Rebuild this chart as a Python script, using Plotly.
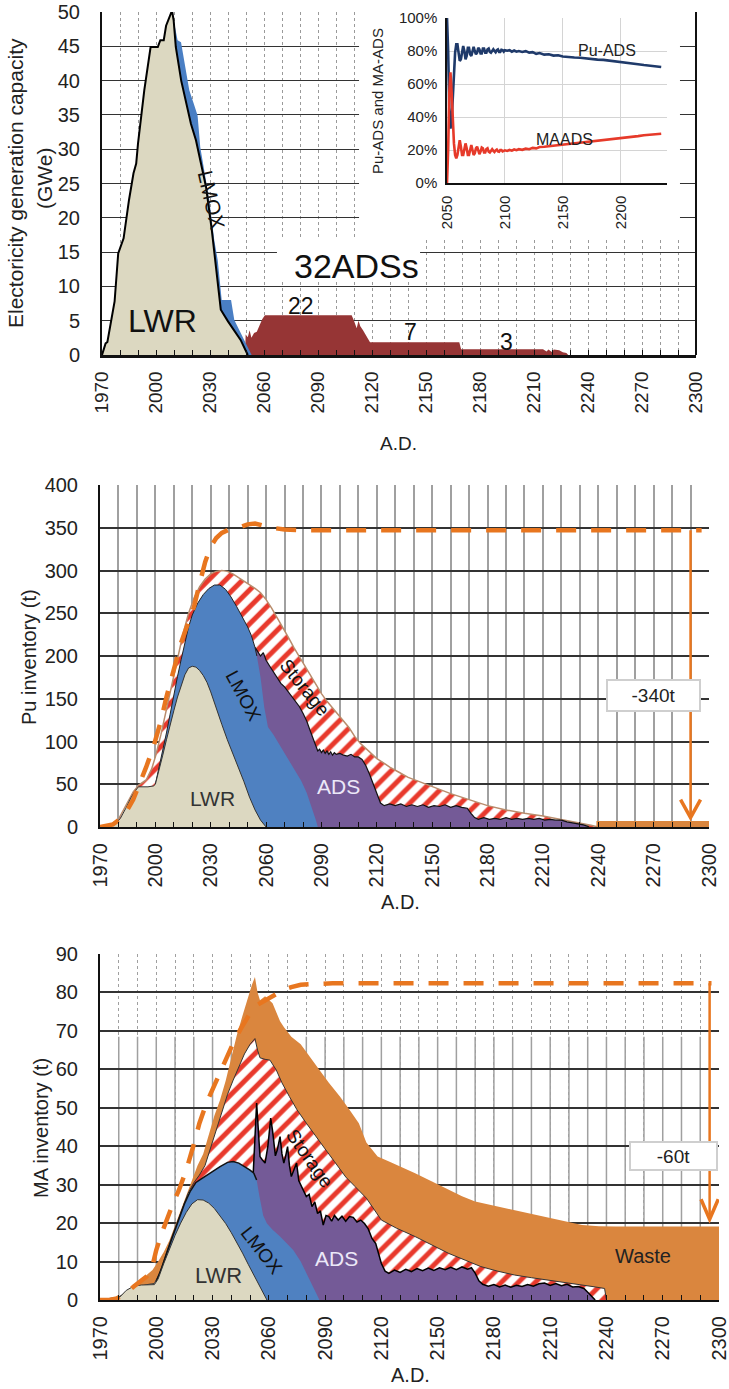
import plotly.graph_objects as go

W, H = 729, 1389
FONT = "Liberation Sans, Arial, Helvetica, sans-serif"

# ---------------- shared tick labels ----------------
year_tick_start, year_tick_step = 1970, 30
inset_year_ticks = [2050, 2100, 2150, 2200]
inset_pct_ticks = [0, 20, 40, 60, 80, 100]
inset_pct_labels = ["0%", "20%", "40%", "60%", "80%", "100%"]

# ---------------- Panel 1: electricity generation capacity (GWe) ----------------
cap_lwr_years = [1970, 1972, 1973, 1975, 1977, 1979, 1982, 1985, 1987.5, 1989, 1990, 1993.5, 1997, 2001,
                 2002.4, 2004.3, 2005.6, 2008.3, 2008.9, 2009.8, 2011, 2014, 2016.7, 2019.4, 2022.2, 2025,
                 2027.8, 2031, 2034, 2036, 2040, 2043.5, 2047, 2051]
cap_lwr = [0, 1.7, 1.9, 5.1, 7.8, 14.8, 17, 22.6, 26.5, 27.9, 30.8, 38.6, 44.9, 44.9,
           45.9, 45.9, 48, 49.8, 50.2, 48.8, 44.9, 40, 36.7, 33.7, 31.3, 27.9,
           24.5, 18.2, 11.4, 6.6, 4.9, 3.6, 2.2, 0]

cap_lmox_years = [2009.8, 2012, 2013.9, 2015.4, 2016.9, 2018.5, 2020.9, 2023.1, 2024.6, 2026.9, 2029.6,
                  2032.4, 2034.3, 2036.5, 2041.7, 2043.5, 2046.3, 2050, 2053.1]
cap_lmox_top = [48.8, 45.9, 45.6, 43.4, 41.3, 38.6, 36.7, 34.9, 30.3, 26.9, 22.6,
                16.7, 13.8, 8, 8, 5.1, 3.6, 1.7, 0]

cap_ads_years = [2049.5, 2049.8, 2051, 2052, 2053, 2054.5, 2056, 2057.5, 2059, 2060.5, 2108.7, 2110,
                 2111.5, 2112.5, 2113.5, 2115, 2117, 2118.9, 2168.5, 2169.5, 2215, 2217, 2218, 2220,
                 2221, 2224, 2226, 2228, 2229]
cap_ads = [0, 3, 2.6, 3.6, 2.5, 3.2, 3.4, 4.3, 5.2, 5.8, 5.8, 5.0,
           3.9, 5.0, 4.2, 3.6, 2.6, 1.85, 1.85, 0.85, 0.85, 0.5, 0.8, 0.45,
           0.8, 0.7, 0.4, 0.3, 0]

# ---------------- Inset: share of Pu / MA in ADS (%) ----------------
inset_years = list(range(2050, 2101)) + [2102, 2104, 2106, 2108, 2110, 2112, 2115, 2118, 2121, 2124, 2127,
                                         2130, 2134, 2138, 2142, 2146, 2150, 2155, 2160, 2165, 2170, 2175,
                                         2180, 2185, 2190, 2195, 2200, 2205, 2210, 2215, 2220, 2225, 2230, 2235]
inset_pu_ads = [100, 80, 45, 33, 38, 52, 68, 79, 84, 84,
                79, 74, 75, 80, 83, 80, 75, 77, 82, 82,
                78, 77, 80, 82.5, 80, 78, 79, 82, 81, 78.5,
                78.5, 81.5, 81.5, 79, 79, 81, 81.5, 79.5, 79, 80.5,
                81, 80, 79.2, 80.5, 81, 79.5, 79.5, 80.8, 80.6, 79.6,
                80.5,
                80.2, 80.5, 79.6, 80.3, 79.6, 80, 79.4, 79.9, 79, 79.3, 78.3,
                78.8, 77.8, 78, 77.2, 77.4, 76.7, 76.6, 76.1, 75.9, 75.4, 75.2,
                74.8, 74.6, 74.2, 74, 73.6, 73.1, 72.6, 72, 71.5, 71, 70.6, 70.3]
inset_ma_ads = [0, 20, 55, 67, 55, 38, 24, 17, 15, 17,
                23, 26, 22, 17, 17, 21, 24, 21, 17, 17,
                21, 23, 20, 17, 18, 21, 22, 19, 17.5, 19,
                21.5, 21, 18.5, 18.5, 20.5, 21, 19, 18.5, 20, 20.5,
                19.5, 18.8, 19.8, 20.3, 19.2, 19, 20, 20, 19.2, 19.5,
                19.8,
                19.4, 20, 19.6, 20.3, 19.9, 20.5, 20.1, 20.8, 20.5, 21.3, 21,
                21.8, 22, 22.3, 22.7, 22.9, 23.3, 23.6, 24, 24.4, 24.8, 25.1,
                25.5, 25.8, 26.2, 26.5, 27, 27.4, 27.9, 28.4, 28.9, 29.3, 29.6, 29.9]

# ---------------- Panel 2: Pu inventory (t), cumulative boundaries ----------------
pu_lwr_years = [1970, 1975, 1978, 1981, 1984, 1987, 1990, 1991, 1996, 1999, 2000, 2002, 2004, 2006, 2008,
                2010, 2012, 2014, 2016, 2018, 2020, 2022, 2024, 2026, 2028, 2030, 2033, 2036, 2039, 2042,
                2045, 2048, 2051, 2054, 2057, 2060]
pu_lwr = [0, 0, 3, 10, 22, 35, 45, 47, 47, 48, 50, 66, 84, 102, 120,
          136, 152, 166, 178, 186, 188, 187, 183, 177, 169, 158, 138, 120, 102, 86,
          70, 53, 35, 20, 8, 0]

pu_lmox_years = [2000, 2002, 2004, 2006, 2008, 2010, 2012, 2014, 2016, 2018, 2020, 2023, 2026, 2029, 2032,
                 2035, 2038, 2041, 2044, 2047, 2050, 2052, 2054, 2055, 2057, 2059, 2061, 2064, 2067, 2070,
                 2073, 2076, 2079, 2082, 2085, 2087, 2088]
pu_lmox_top = [50, 69, 88, 110, 132, 155, 176, 196, 216, 234, 248, 262, 272, 279, 283,
               283, 278, 269, 258, 246, 234, 224, 210, 200, 175, 140, 117, 108, 97, 86,
               75, 64, 54, 40, 22, 8, 0]

pu_ads_years = [2054, 2055.5, 2057, 2058.5, 2060, 2062, 2064, 2066, 2068, 2070, 2072, 2074, 2076, 2078, 2080,
                2082, 2084, 2086, 2087, 2088, 2089, 2090, 2091, 2092, 2093, 2094, 2095, 2096, 2097, 2098,
                2100, 2102, 2104, 2106, 2108, 2110, 2112, 2114, 2116, 2118, 2120, 2122, 2124, 2127, 2130,
                2133, 2136, 2139, 2142, 2145, 2148, 2151, 2154, 2157, 2160, 2163, 2166, 2169, 2171, 2173,
                2175, 2178, 2181, 2184, 2187, 2190, 2193, 2196, 2199, 2202, 2205, 2208, 2211, 2214, 2217,
                2220, 2223, 2226, 2229, 2232, 2234, 2235]
pu_ads_top = [210, 205, 200, 204, 195, 188, 181, 175, 168, 164, 158, 152, 147, 141, 133,
              124, 112, 100, 93, 89, 91, 87, 90, 86, 89, 85, 88, 84, 87, 85,
              86, 84, 83, 85, 82, 82, 79, 72, 62, 50, 38, 28, 25, 27, 25,
              27, 24, 26, 24, 26, 23, 25, 24, 26, 23, 25, 23, 22, 16, 11,
              9, 11, 9, 10, 9, 11, 9, 10, 9, 10, 9, 10, 8, 9, 8,
              8, 6, 5, 4, 2.5, 1, 0]

pu_storage_years = [1970, 1975, 1980, 1985, 1988, 1991, 1995, 1998, 2000, 2003, 2006, 2009, 2012, 2015, 2018,
                    2021, 2024, 2027, 2030, 2033, 2036, 2039, 2042, 2045, 2048, 2051, 2054, 2057, 2060, 2063,
                    2066, 2069, 2072, 2075, 2078, 2081, 2084, 2087, 2090, 2093, 2096, 2099, 2102, 2105, 2108,
                    2111, 2114, 2117, 2120, 2123, 2127, 2132, 2137, 2142, 2150, 2160, 2170, 2180, 2190, 2200,
                    2210, 2220, 2230, 2236, 2240]
pu_storage_top = [0, 2, 9, 28, 41, 49, 55, 68, 82, 108, 138, 168, 198, 226, 250,
                  268, 281, 290, 296, 299, 300, 299, 296, 292, 288, 284, 279, 274, 266, 256,
                  245, 234, 222, 210, 199, 188, 177, 166, 156, 147, 139, 131, 124, 116, 106,
                  98, 92, 86, 80, 76, 70, 64, 58, 54, 47, 39, 32, 25, 20, 16,
                  13, 9, 5, 2, 0]

pu_waste_years = [2239, 2300]
pu_waste = [7, 7]

pu_total_years = [1970, 1974, 1977, 1980, 1984, 1988, 1991, 1995, 1999, 2003, 2006, 2010, 2014, 2018, 2021,
                  2024, 2027, 2030, 2033, 2036, 2040, 2045, 2050, 2054, 2058, 2063, 2070, 2080, 2296]
pu_total = [0, 1, 3, 8, 17, 32, 47, 70, 94, 124, 152, 185, 216, 240, 258,
            285, 310, 328, 338, 344, 348, 350, 354, 355, 353, 350, 348, 347, 347]
pu_reduction_label = "-340t"
pu_arrow_year, pu_arrow_from, pu_arrow_to = 2290, 347, 11

# ---------------- Panel 3: MA inventory (t), cumulative boundaries ----------------
ma_lwr_years = [1970, 1977, 1980, 1984, 1988, 1992, 1999, 2001, 2004, 2007, 2010, 2013, 2016, 2019, 2022,
                2025, 2028, 2031, 2034, 2037, 2040, 2043, 2046, 2049, 2052, 2055, 2058, 2059]
ma_lwr = [0, 0, 0.5, 2.5, 3.6, 3.9, 4, 5.5, 9.5, 13.2, 16.8, 20, 22.8, 25, 26.1,
          26, 25.2, 23.8, 22, 19.9, 17.5, 15, 12.2, 9.3, 6.5, 3.6, 0.8, 0]

ma_lmox_years = [2000, 2003, 2006, 2009, 2012, 2015, 2018, 2021, 2024, 2027, 2030, 2034, 2038, 2041, 2044,
                 2047, 2050, 2052, 2053.5, 2055, 2057, 2059, 2062, 2066, 2070, 2073, 2077, 2080, 2084, 2087]
ma_lmox_top = [4.8, 8.5, 12.8, 17, 21, 25, 28.2, 30.5, 31.5, 32.5, 33.5, 34.7, 35.8, 36, 35.6,
               34.8, 33.8, 33, 31.2, 27, 22, 19.9, 18.3, 16.5, 14.5, 13, 10, 6.9, 3, 0]

ma_ads_years = [2051.7, 2052.5, 2053.5, 2054.3, 2055.3, 2056.5, 2058, 2059.5, 2061, 2062, 2063.5, 2064.5,
                2066, 2067, 2068, 2069, 2070, 2071, 2072, 2073.5, 2074.8, 2076, 2077.5, 2079, 2080, 2081.5,
                2083, 2084.5, 2086, 2087.5, 2089, 2090.5, 2092, 2093.5, 2095, 2097, 2099, 2101, 2103, 2105,
                2107, 2109, 2111, 2113, 2115, 2117, 2119, 2120, 2122, 2124, 2127, 2130, 2133, 2136, 2139,
                2142, 2145, 2148, 2151, 2154, 2157, 2160, 2163, 2166, 2168, 2170, 2172, 2174, 2177, 2180,
                2183, 2186, 2189, 2192, 2195, 2198, 2201, 2204, 2207, 2210, 2213, 2216, 2219, 2222, 2225,
                2228, 2230, 2232, 2234]
ma_ads_top = [33, 40, 51.2, 45, 37.3, 36.5, 35.6, 40, 47.3, 44, 37.5, 39,
              42.5, 38, 35.6, 37.5, 39.9, 35, 32.1, 34, 35.6, 31, 29.5, 28, 26.9, 27.5,
              24.3, 25.5, 22.5, 23.2, 19.5, 22, 21.7, 20.5, 22, 20.8, 21.8, 20.5, 21.7, 21.5,
              20.3, 20.8, 19.9, 18.5, 16, 14.7, 11.5, 9.5, 7.5, 6.9, 7.8, 7.2, 8, 7.4, 8.2,
              7.6, 8.3, 7.7, 8.4, 7.9, 8.5, 7.9, 8.6, 8, 8.4, 7, 5, 4.1, 3.6, 4.0,
              3.4, 3.9, 3.3, 3.8, 3.5, 4, 3.6, 4.2, 4.4, 3.8, 4.3, 3.7, 4.1, 3.4, 3.5,
              3.0, 2, 1, 0]

ma_storage_years = [1970, 1980, 1985, 1990, 1995, 1999, 2002, 2005, 2008, 2011, 2014, 2017, 2020, 2023, 2026,
                    2029, 2032, 2035, 2038, 2041, 2044, 2047, 2050, 2052.6, 2054, 2055.3, 2058, 2060.6, 2064,
                    2067, 2071, 2075, 2080, 2085, 2090, 2095, 2101, 2106, 2112, 2120, 2128, 2138, 2146, 2156,
                    2165, 2173, 2182, 2191, 2200, 2209, 2218, 2227, 2234, 2239, 2240]
ma_storage_top = [0, 0.8, 2.2, 3.3, 4, 4.3, 7.2, 11.7, 16, 20, 24, 27.8, 30.5, 32.5, 35,
                  39.5, 44.2, 49, 53.5, 57.2, 60.8, 64, 66.5, 68, 65, 63, 62.6, 62.4, 59.8,
                  56.5, 52.9, 49.5, 46, 42.5, 39.3, 36, 32, 29.5, 26.5, 20.8, 18.7, 16.5, 14.5, 12.1,
                  10.3, 8.7, 7.5, 6.5, 5.8, 5.2, 4.6, 3.9, 3.4, 3, 0]

ma_waste_years = [1970, 1975, 1980, 1985, 1990, 1995, 1998, 2001, 2004, 2007, 2010, 2013, 2016, 2019, 2022,
                  2025, 2028, 2031, 2034, 2037, 2040, 2043, 2046, 2049, 2051, 2052.6, 2054, 2055.3, 2058,
                  2062, 2066, 2068, 2072, 2077, 2082, 2087, 2092, 2098, 2103, 2108, 2112, 2118, 2125, 2130,
                  2138, 2147, 2156, 2163, 2170, 2180, 2191, 2200, 2209, 2218, 2227, 2236, 2245, 2300]
ma_waste_top = [0, 0.3, 0.8, 2.5, 4.5, 6.5, 7.8, 10, 12.5, 15.5, 19.5, 23.5, 27.5, 31, 35,
                38, 43, 48, 52, 57, 63, 69, 74, 79, 82, 84, 80, 78, 79,
                77.2, 72.5, 71, 68.5, 66.5, 63, 59.8, 56.5, 52.9, 49.5, 46, 41, 37.3, 35.8, 34.8,
                33, 30.8, 28.6, 27, 25.6, 24.5, 23.4, 22.3, 21.3, 20.3, 19.5, 19.2, 19.1, 19.1]

ma_total_years = [1970, 1975, 1979, 1984, 1988, 1992, 1995, 1998, 2000, 2003, 2006, 2009, 2012, 2016, 2020,
                  2023, 2027, 2032, 2036, 2041, 2045, 2050, 2054, 2059, 2063, 2068, 2072, 2077, 2085, 2094,
                  2296]
ma_total = [0, 0, 0.4, 1.8, 3.5, 5, 6.2, 9, 13, 17.5, 21.5, 25.2, 28.5, 33.8, 40.5,
            46, 51.5, 57.2, 61.5, 66.8, 70.5, 74.6, 76.8, 78.2, 79.5, 80.7, 81.4, 82, 82.2, 82.4,
            82.4]
ma_reduction_label = "-60t"
ma_arrow_year, ma_arrow_from, ma_arrow_to = 2295, 82.4, 21

# ---------------- colours ----------------
C_LWR = "#dcd8c1"
C_LMOX = "#4f81c1"
C_LMOX1 = "#4a7fc4"
C_ADS = "#745a97"
C_ADS_RED = "#963535"
C_WASTE = "#da863e"
C_DASH = "#e8761f"
C_HATCH = "#e8392c"
C_PU = "#1f3a6a"
C_MA = "#e63a2a"


def fx(px):
    return px / W


def fy(py):
    return 1 - py / H


fig = go.Figure()


def area(x, y, xa, ya, fillcolor, line_color=None, line_width=0, pattern=None):
    kw = dict(x=x, y=y, mode="lines", xaxis=xa, yaxis=ya, fill="tozeroy", hoverinfo="skip",
              showlegend=False,
              line=dict(color=line_color or fillcolor, width=line_width, shape="linear"))
    if pattern:
        kw["fillpattern"] = pattern
        kw["fillcolor"] = "white"
    else:
        kw["fillcolor"] = fillcolor
    fig.add_trace(go.Scatter(**kw))


def line(x, y, xa, ya, color, width, dash=None):
    fig.add_trace(go.Scatter(x=x, y=y, mode="lines", xaxis=xa, yaxis=ya, hoverinfo="skip", showlegend=False,
                             line=dict(color=color, width=width, dash=dash)))


hatch = dict(shape="/", fgcolor=C_HATCH, bgcolor="white", size=12, solidity=0.42, fillmode="replace")

# Panel 1
area(cap_ads_years, cap_ads, "x", "y", C_ADS_RED)
area(cap_lmox_years, cap_lmox_top, "x", "y", C_LMOX1)
area(cap_lwr_years, cap_lwr, "x", "y", C_LWR, "black", 2)

# Inset
line(inset_years, inset_pu_ads, "x4", "y4", C_PU, 2.6)
line(inset_years, inset_ma_ads, "x4", "y4", C_MA, 2.6)

# Panel 2
area(pu_storage_years, pu_storage_top, "x2", "y2", "white", "#b98c6c", 1.5, pattern=hatch)
area(pu_ads_years, pu_ads_top, "x2", "y2", C_ADS, "#111", 1.2)
area(pu_lmox_years, pu_lmox_top, "x2", "y2", C_LMOX)
pu_lmox_vis = [(x, y) for x, y in zip(pu_lmox_years, pu_lmox_top) if x <= 2055]
line([p[0] for p in pu_lmox_vis], [p[1] for p in pu_lmox_vis], "x2", "y2", "#222", 1)
area(pu_lwr_years, pu_lwr, "x2", "y2", C_LWR, "#333", 1)
area(pu_waste_years, pu_waste, "x2", "y2", C_WASTE)
line(pu_total_years, pu_total, "x2", "y2", C_DASH, 4.5, dash="20px,15px")

# Panel 3
area(ma_waste_years, ma_waste_top, "x3", "y3", C_WASTE)
area(ma_storage_years, ma_storage_top, "x3", "y3", "white", "#333", 1, pattern=hatch)
area(ma_ads_years, ma_ads_top, "x3", "y3", C_ADS, "#000", 1.5)
area(ma_lmox_years, ma_lmox_top, "x3", "y3", C_LMOX)
ma_lmox_vis = [(x, y) for x, y in zip(ma_lmox_years, ma_lmox_top) if x <= 2053.5]
line([p[0] for p in ma_lmox_vis], [p[1] for p in ma_lmox_vis], "x3", "y3", "#111", 1.5)
area(ma_lwr_years, ma_lwr, "x3", "y3", C_LWR, "#333", 1)
line(ma_total_years, ma_total, "x3", "y3", C_DASH, 4.5, dash="20px,15px")


def xaxis_cfg(dom, anchor, gridcolor, griddash, gridwidth, linewidth, fontsize):
    return dict(domain=dom, anchor=anchor, range=[1970, 2300], tickmode="linear", tick0=year_tick_start,
                dtick=year_tick_step, tickangle=-90, ticks="inside", ticklen=5, tickwidth=1.3,
                tickcolor="#111", showline=True, linecolor="#111", linewidth=linewidth, zeroline=False,
                showgrid=True, gridcolor=gridcolor, griddash=griddash, gridwidth=gridwidth,
                tickfont=dict(family=FONT, size=fontsize, color="#222"), ticklabelstandoff=6,
                automargin=False, ticklabeloverflow="allow",
                minor=dict(tickmode="linear", tick0=1970, dtick=10, ticks="inside", ticklen=5,
                           tickwidth=1.3, tickcolor="#111", showgrid=True, gridcolor=gridcolor,
                           griddash=griddash, gridwidth=gridwidth))


def yaxis_cfg(dom, anchor, rng, dtick, gridwidth, fontsize):
    return dict(domain=dom, anchor=anchor, range=rng, tickmode="linear", tick0=0, dtick=dtick, ticks="",
                showline=True, linecolor="#111", linewidth=2, zeroline=False, showgrid=True,
                gridcolor="#333", gridwidth=gridwidth, tickfont=dict(family=FONT, size=fontsize, color="#222"),
                ticklabelstandoff=16, automargin=False, ticklabeloverflow="allow")


layout = dict(
    width=W, height=H, autosize=False, margin=dict(l=0, r=0, t=0, b=0, pad=0, autoexpand=False),
    paper_bgcolor="white", plot_bgcolor="white", showlegend=False,
    font=dict(family=FONT, color="#222"),
    xaxis=xaxis_cfg([fx(102), fx(696)], "y", "#9a9a9a", "dot", 1, 2.5, 19),
    yaxis=yaxis_cfg([fy(355), fy(12)], "x", [0, 50], 5, 1.3, 20),
    xaxis2=xaxis_cfg([fx(100), fx(709)], "y2", "#a0a0a0", "solid", 1.6, 2, 20),
    yaxis2=yaxis_cfg([fy(827), fy(485)], "x2", [0, 400], 50, 1.6, 20),
    xaxis3=xaxis_cfg([fx(100), fx(719)], "y3", "#a0a0a0", "dot", 1, 2, 20),
    yaxis3=yaxis_cfg([fy(1300), fy(954)], "x3", [0, 90], 10, 1.5, 20),
    xaxis4=dict(domain=[fx(447), fx(667)], anchor="y4", range=[2050, 2240], tickvals=inset_year_ticks,
                tickangle=-90, ticks="", showline=True, linecolor="#111", linewidth=1.5, zeroline=False,
                showgrid=True, gridcolor="#d4d4d4", gridwidth=1, automargin=False,
                tickfont=dict(family=FONT, size=15, color="#222"), ticklabelstandoff=5),
    yaxis4=dict(domain=[fy(183), fy(18)], anchor="x4", range=[0, 100], tickvals=inset_pct_ticks,
                ticktext=inset_pct_labels, ticks="", showline=True, linecolor="#111", linewidth=1.5,
                zeroline=False, showgrid=True, gridcolor="#d4d4d4", gridwidth=1, automargin=False,
                tickfont=dict(family=FONT, size=15, color="#222"), ticklabelstandoff=5),
)

shapes = []
# white areas covering the grid of panel 1 (behind the inset and the "32ADSs" caption)
shapes.append(dict(type="rect", xref="x", yref="y", x0=2112.8, x1=2291.1, y0=17.2, y1=51,
                   fillcolor="white", line=dict(width=0), layer="between"))
shapes.append(dict(type="rect", xref="x", yref="y", x0=2067.2, x1=2146.7, y0=10.93, y1=17.2,
                   fillcolor="white", line=dict(width=0), layer="between"))
# right frame of panel 1
shapes.append(dict(type="line", xref="paper", yref="paper", x0=fx(696), x1=fx(696), y0=fy(355), y1=fy(12),
                   line=dict(color="#111", width=2), layer="above"))
# solid lower part of the vertical grid in panel 3
for yr in range(1980, 2300, 10):
    shapes.append(dict(type="line", xref="x3", yref="y3", x0=yr, x1=yr, y0=0, y1=68.5,
                       line=dict(color="#a0a0a0", width=1.5), layer="below"))
# reduction arrows
shapes.append(dict(type="line", xref="x2", yref="y2", x0=pu_arrow_year, x1=pu_arrow_year,
                   y0=pu_arrow_from, y1=pu_arrow_to, line=dict(color=C_DASH, width=2.5), layer="above"))
shapes.append(dict(type="path", xref="x2", yref="y2",
                   path=f"M {pu_arrow_year - 5.4},{pu_arrow_to + 21} L {pu_arrow_year},{pu_arrow_to} "
                        f"L {pu_arrow_year + 5.4},{pu_arrow_to + 21}",
                   line=dict(color=C_DASH, width=3.5), layer="above"))
shapes.append(dict(type="line", xref="x3", yref="y3", x0=ma_arrow_year, x1=ma_arrow_year,
                   y0=ma_arrow_from, y1=ma_arrow_to, line=dict(color=C_DASH, width=2.5), layer="above"))
shapes.append(dict(type="path", xref="x3", yref="y3",
                   path=f"M {ma_arrow_year - 4.6},{ma_arrow_to + 5.2} L {ma_arrow_year},{ma_arrow_to} "
                        f"L {ma_arrow_year + 4.6},{ma_arrow_to + 5.2}",
                   line=dict(color=C_DASH, width=3.5), layer="above"))
layout["shapes"] = shapes


def ann(text, px, py, size, color="#111", angle=0, **kw):
    d = dict(text=text, x=fx(px), y=fy(py), xref="paper", yref="paper", showarrow=False,
             xanchor="center", yanchor="middle", textangle=angle,
             font=dict(family=FONT, size=size, color=color))
    d.update(kw)
    return d


annotations = [
    # panel 1
    ann("Electoricity generation capacity", 15, 183, 21, "#222", -90),
    ann("(GWe)", 44, 179, 21, "#222", -90),
    ann("A.D.", 398, 443, 19, "#222"),
    ann("LWR", 162, 321, 32, "#111"),
    ann("LMOX", 212, 200, 21, "#111", 77),
    ann("32ADSs", 356, 266, 34, "#111"),
    ann("22", 301, 306, 23, "#111"),
    ann("7", 410, 332, 23, "#111"),
    ann("3", 506, 342, 23, "#111"),
    # inset
    ann("Pu-ADS and MA-ADS", 377, 101, 15, "#222", -90),
    ann("Pu-ADS", 607, 51, 16, "#222"),
    ann("MAADS", 564, 139, 16, "#222"),
    # panel 2
    ann("Pu inventory (t)", 29, 657, 20, "#222", -90),
    ann("A.D.", 400, 902, 20, "#222"),
    ann("LWR", 212, 798, 21, "#333"),
    ann("LMOX", 243, 696, 19, "#111", 62),
    ann("Storage", 305, 687, 19, "#111", 51),
    ann("ADS", 338, 786, 21, "#ece8f8"),
    ann(pu_reduction_label, 653, 695, 19, "#222", bgcolor="white", bordercolor="#cfcfcf",
        borderwidth=2, borderpad=1, width=89, height=27),
    # panel 3
    ann("MA inventory (t)", 41, 1128, 20, "#222", -90),
    ann("A.D.", 410, 1375, 20, "#222"),
    ann("LWR", 218, 1275, 22, "#333"),
    ann("LMOX", 262, 1250, 19, "#111", 52),
    ann("Storage", 310, 1158, 19, "#111", 55),
    ann("ADS", 336, 1258, 21, "#ece8f8"),
    ann("Waste", 643, 1256, 20, "#222"),
    ann(ma_reduction_label, 673, 1156, 19, "#222", bgcolor="white", bordercolor="#cfcfcf",
        borderwidth=2, borderpad=1, width=83, height=24),
]
layout["annotations"] = annotations

fig.update_layout(**layout)
fig.write_html("out.html", config={"displayModeBar": False},
               post_script="document.body.style.margin='0px';document.body.style.padding='0px';"
                           "document.documentElement.style.overflow='hidden';")
